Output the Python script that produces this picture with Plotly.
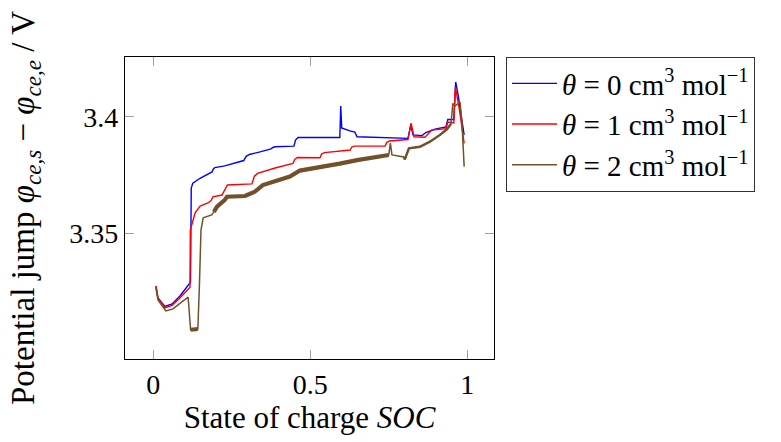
import plotly.graph_objects as go

# State of charge samples and potential jump (V) for three partial molar volumes
soc_0 = [0.0086, 0.015, 0.037, 0.06, 0.085, 0.115, 0.1185, 0.121, 0.126, 0.149, 0.171, 0.187,
         0.191, 0.196, 0.228, 0.288, 0.296, 0.306, 0.34, 0.375, 0.381, 0.388, 0.448, 0.453,
         0.461, 0.594, 0.597, 0.6, 0.626, 0.642, 0.649, 0.722, 0.811, 0.82, 0.827, 0.856,
         0.868, 0.897, 0.932, 0.938, 0.957, 0.963, 0.972, 0.98, 0.99]
phi_0 = [3.3274, 3.3223, 3.3186, 3.3197, 3.3231, 3.3286, 3.3290, 3.3694, 3.3715, 3.3736, 3.375,
         3.3763, 3.3775, 3.3782, 3.3789, 3.3812, 3.3830, 3.3838, 3.3849, 3.3862, 3.3868,
         3.3871, 3.3874, 3.3900, 3.3911, 3.3911, 3.4046, 3.3952, 3.3939, 3.3934, 3.3914,
         3.3911, 3.3907, 3.3964, 3.3922, 3.3919, 3.3932, 3.3947, 3.3956, 3.3988, 3.3988,
         3.4149, 3.4084, 3.4007, 3.3922]

soc_1 = [0.0086, 0.015, 0.037, 0.06, 0.085, 0.117, 0.118, 0.133, 0.149, 0.174, 0.184, 0.19,
         0.219, 0.228, 0.236, 0.314, 0.322, 0.332, 0.388, 0.445, 0.451, 0.459, 0.531, 0.536,
         0.545, 0.627, 0.632, 0.64, 0.738, 0.744, 0.752, 0.811, 0.821, 0.83, 0.865, 0.875,
         0.887, 0.932, 0.938, 0.957, 0.962, 0.975, 0.99]
phi_1 = [3.3274, 3.3223, 3.318, 3.3191, 3.3223, 3.3269, 3.3514, 3.3587, 3.3617, 3.363, 3.3640,
         3.3656, 3.3664, 3.3690, 3.3707, 3.3712, 3.3745, 3.3757, 3.378, 3.38, 3.3818, 3.3825,
         3.3824, 3.3840, 3.3846, 3.3857, 3.3870, 3.3874, 3.3874, 3.3890, 3.3896, 3.3902,
         3.3972, 3.3914, 3.3912, 3.3926, 3.3943, 3.3949, 3.3977, 3.3973, 3.4127, 3.4029,
         3.3886]

soc_2 = [0.0086, 0.015, 0.04, 0.063, 0.091, 0.111, 0.119, 0.142, 0.147, 0.152, 0.159, 0.186,
         0.193, 0.203, 0.228, 0.235, 0.292, 0.324, 0.349, 0.397, 0.435, 0.467, 0.531, 0.594,
         0.649, 0.731, 0.75, 0.755, 0.76, 0.798, 0.801, 0.814, 0.849, 0.881, 0.913, 0.935,
         0.948, 0.954, 0.961, 0.977, 0.983, 0.99]
phi_2 = [3.3264, 3.3214, 3.3167, 3.3176, 3.3206, 3.3226, 3.3086, 3.309, 3.3279, 3.3514, 3.3566,
         3.3579, 3.3592, 3.3614, 3.3643, 3.3657, 3.366, 3.3679, 3.3707, 3.3729, 3.3743,
         3.3769, 3.3783, 3.3799, 3.3814, 3.3832, 3.3836, 3.3887, 3.3836, 3.3827, 3.3817,
         3.3864, 3.3871, 3.3893, 3.3922, 3.3946, 3.3969, 3.4057, 3.4046, 3.4063, 3.3973,
         3.3786]

names = [
    "<i>θ</i> = 0 cm<sup>3</sup> mol<sup>−1</sup>",
    "<i>θ</i> = 1 cm<sup>3</sup> mol<sup>−1</sup>",
    "<i>θ</i> = 2 cm<sup>3</sup> mol<sup>−1</sup>",
]
colors = ["#0000ff", "#ff0000", "#72502a"]

FONT = "Liberation Serif"

fig = go.Figure()
fig.add_trace(go.Scatter(x=soc_0, y=phi_0, mode="lines", name=names[0],
                         line=dict(color=colors[0], width=1.4)))
fig.add_trace(go.Scatter(x=soc_1, y=phi_1, mode="lines", name=names[1],
                         line=dict(color=colors[1], width=1.4)))
fig.add_trace(go.Scatter(x=soc_2, y=phi_2, mode="lines", name=names[2], legendgroup="b",
                         line=dict(color=colors[2], width=1.5)))
# noisy stretches of the θ = 2 curve render as a thick band
for lo, hi, w in [(6, 8, 4.0), (12, 27, 4.2), (29, 37, 2.4)]:
    fig.add_trace(go.Scatter(x=soc_2[lo:hi], y=phi_2[lo:hi], mode="lines", legendgroup="b",
                             showlegend=False, line=dict(color=colors[2], width=w)))

axis_common = dict(
    showline=True, linecolor="black", linewidth=1.2, mirror="allticks",
    ticks="inside", ticklen=9, tickcolor="#a0a0a0", tickwidth=1.2,
    showgrid=False, zeroline=False,
    tickfont=dict(family=FONT, size=28, color="black"),
)

fig.update_layout(
    width=781, height=442,
    margin=dict(l=125, r=287, t=57, b=83),
    paper_bgcolor="white", plot_bgcolor="white",
    font=dict(family=FONT, size=28, color="black"),
    xaxis=dict(range=[-0.09, 1.085], tickvals=[0, 0.5, 1], ticktext=["0", "0.5", "1"],
               title=dict(text="State of charge <i>SOC</i>", standoff=6,
                          font=dict(family=FONT, size=31)),
               **axis_common),
    yaxis=dict(range=[3.2961, 3.4256], tickvals=[3.35, 3.4], ticktext=["3.35", "3.4"],
               title=dict(text="Potential jump <i>φ</i><sub><i>ce,s</i></sub> − "
                               "<i>φ</i><sub><i>ce,e</i></sub> / V", standoff=24,
                          font=dict(family=FONT, size=33)),
               **axis_common),
    legend=dict(x=1.0325, y=1, xanchor="left", yanchor="top",
                bgcolor="white", bordercolor="#333333", borderwidth=1,
                font=dict(family=FONT, size=29), tracegroupgap=0, itemwidth=45),
    showlegend=True,
)

fig.write_html("out.html")
